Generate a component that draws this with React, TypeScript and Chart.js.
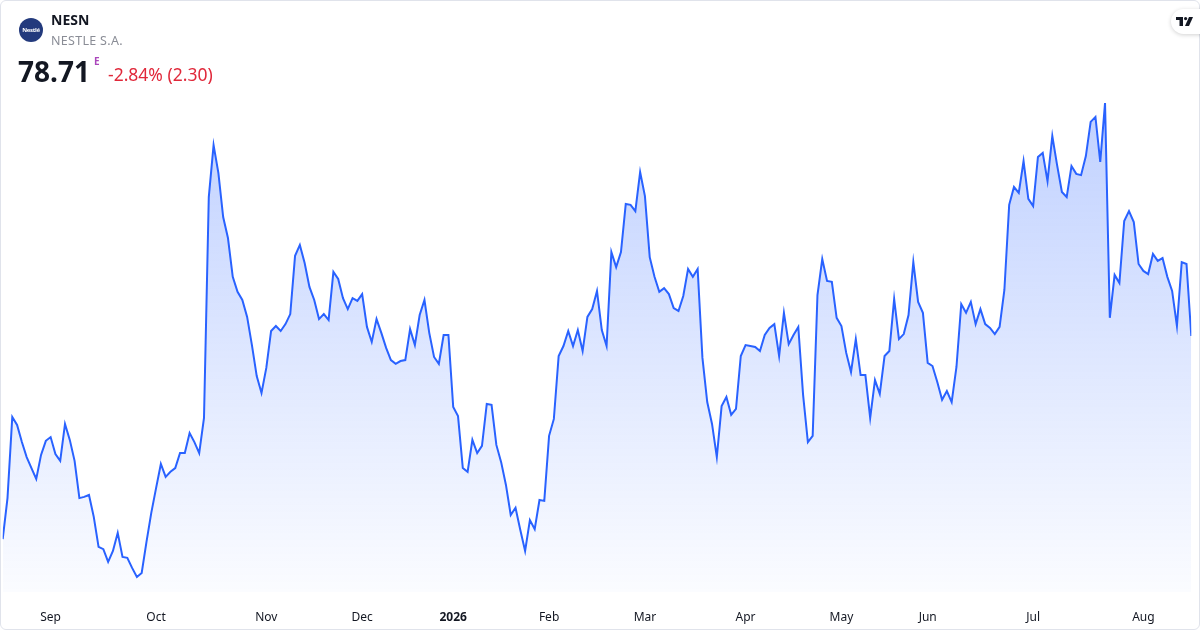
import React, { useEffect, useRef } from "react";
import { Chart, registerables } from "chart.js";

Chart.register(...registerables);

// Daily closing prices (CHF)
const prices: number[] = [
  72.22, 73.53, 76.12, 75.87, 75.32, 74.84, 74.49, 74.14, 74.91, 75.36,
  75.48, 74.94, 74.72, 75.90, 75.39, 74.72, 73.53, 73.57, 73.63, 72.93,
  71.97, 71.90, 71.49, 71.84, 72.42, 71.65, 71.62, 71.30, 71.01, 71.14,
  72.13, 73.06, 73.85, 74.62, 74.21, 74.37, 74.49, 74.97, 74.97, 75.61,
  75.32, 74.97, 76.09, 83.15, 84.81, 83.92, 82.51, 81.84, 80.60, 80.12,
  79.86, 79.32, 78.42, 77.43, 76.89, 77.69, 78.87, 79.03, 78.87, 79.09,
  79.41, 81.27, 81.62,
  81.04, 80.28, 79.86, 79.25, 79.41, 79.22, 80.76, 80.53, 79.92, 79.57,
  79.92, 79.83, 80.05, 79.00, 78.52, 79.25, 78.81, 78.33, 77.94, 77.82,
  77.91, 77.94, 78.93, 78.42, 79.38, 79.86, 78.81, 78.04, 77.82, 78.74,
  78.74, 76.44, 76.15, 74.49, 74.37, 75.39, 74.97, 75.20, 76.54, 76.51,
  75.23, 74.68, 73.95, 72.99, 73.22, 72.51, 71.84, 72.83, 72.54, 73.47,
  73.44, 75.52, 76.06, 78.07, 78.39, 78.87, 78.39, 78.90, 78.23, 79.32,
  79.57, 80.15, 78.90,
  78.39, 81.39, 80.91, 81.39, 82.93, 82.90, 82.70, 83.95, 83.18, 81.23,
  80.60, 80.12, 80.24, 80.05, 79.60, 79.51, 79.99, 80.85, 80.60, 80.85,
  78.01, 76.60, 75.90, 74.84, 76.47, 76.76, 76.19, 76.38, 78.07, 78.42,
  78.39, 78.36, 78.23, 78.74, 78.97, 79.09, 78.07, 79.45, 78.45, 78.74,
  79.00, 76.83, 75.32, 75.52, 80.02, 81.17, 80.47, 80.44, 79.29, 79.03,
  78.17, 77.56, 78.61, 77.46, 77.46, 76.09, 77.30, 76.86, 78.07, 78.23,
  79.89, 78.61, 78.77,
  79.38, 81.07, 79.80, 79.45, 77.85, 77.75, 77.24, 76.67, 76.95, 76.60,
  77.72, 79.73, 79.45, 79.80, 79.09, 79.57, 79.09, 78.97, 78.77, 79.00,
  80.18, 82.90, 83.47, 83.28, 84.30, 83.09, 82.86, 84.43, 84.56, 83.66,
  85.10, 84.17, 83.31, 83.15, 84.14, 83.89, 83.85, 84.46, 85.55, 85.71,
  84.27, 86.15, 79.29, 80.66, 80.40, 82.38, 82.70, 82.35, 81.01, 80.79,
  80.69, 81.33, 81.11, 81.20, 80.60, 80.15, 79.03, 81.07, 81.01, 78.71,
];

// Month labels on the time axis and the trading-day index each one marks
const tickLabels: string[] = ["Sep", "Oct", "Nov", "Dec", "2026", "Feb", "Mar", "Apr", "May", "Jun", "Jul", "Aug"];
const tickIndices: number[] = [10, 32, 55, 75, 94, 114, 134, 155, 175, 193, 215, 238];

const FONT = "'Noto Sans', 'Open Sans', sans-serif";

export default function App() {
  const canvasRef = useRef<HTMLCanvasElement | null>(null);

  useEffect(() => {
    const el = canvasRef.current;
    if (!el) return;
    const data = prices.map((p, i) => ({ x: i, y: p }));
    const chart = new Chart(el, {
      type: "line",
      data: {
        datasets: [
          {
            data,
            borderColor: "#2962FF",
            borderWidth: 2,
            pointRadius: 0,
            tension: 0,
            fill: "start",
            backgroundColor: (ctx: any) => {
              const { chart } = ctx;
              const area = chart.chartArea;
              if (!area) return "rgba(41,98,255,0.15)";
              const g = chart.ctx.createLinearGradient(0, area.top, 0, area.bottom);
              g.addColorStop(0, "rgba(41,98,255,0.30)");
              g.addColorStop(1, "rgba(41,98,255,0.02)");
              return g;
            },
          },
        ],
      },
      options: {
        animation: false,
        responsive: false,
        maintainAspectRatio: false,
        layout: { padding: { left: 2.7, right: 8.7, top: 90, bottom: 0 } },
        plugins: { legend: { display: false }, tooltip: { enabled: false } },
        scales: {
          x: {
            type: "linear",
            min: 0,
            max: prices.length - 1,
            border: { display: false },
            grid: { display: false, drawTicks: false },
            afterBuildTicks: (scale: any) => {
              scale.ticks = tickIndices.map((v) => ({ value: v }));
            },
            afterFit: (scale: any) => {
              scale.height = 38;
            },
            ticks: {
              autoSkip: false,
              maxRotation: 0,
              padding: 18,
              color: "#131722",
              font: (ctx: any) => ({
                family: FONT,
                size: 12,
                weight: ctx.tick && ctx.tick.label === "2026" ? "bold" : "normal",
              }),
              callback: (value: any) => {
                const i = tickIndices.indexOf(Number(value));
                return i >= 0 ? tickLabels[i] : "";
              },
            },
          },
          y: {
            display: false,
            min: 70.53,
            max: 86.57,
          },
        },
      },
    });
    return () => chart.destroy();
  }, []);

  const last = prices[prices.length - 1];
  const prev = prices[prices.length - 2];
  const diff = last - prev;
  const pct = (diff / prev) * 100;

  return (
    <div
      style={{
        position: "fixed",
        left: 0,
        top: 0,
        width: 1200,
        height: 630,
        background: "#ffffff",
        overflow: "hidden",
        fontFamily: FONT,
      }}
    >
      <canvas ref={canvasRef} width={1200} height={630} style={{ position: "absolute", left: 0, top: 0, width: 1200, height: 630 }} />
      <div
        style={{
          position: "absolute",
          left: 0,
          top: 0,
          width: 1200,
          height: 630,
          boxSizing: "border-box",
          border: "1px solid #e0e3eb",
          borderRadius: 6,
          pointerEvents: "none",
        }}
      />
      {/* logo */}
      <div
        style={{
          position: "absolute",
          left: 19,
          top: 18,
          width: 24,
          height: 24,
          borderRadius: 12,
          background: "#233a7d",
          color: "#ffffff",
          fontSize: 6,
          fontWeight: 700,
          lineHeight: "24px",
          textAlign: "center",
          letterSpacing: -0.3,
        }}
      >
        Nestlé
      </div>
      <div style={{ position: "absolute", left: 51, top: 10, fontSize: 14, fontWeight: 700, color: "#131722", lineHeight: "20px" }}>
        NESN
      </div>
      <div style={{ position: "absolute", left: 51, top: 32, fontSize: 12.5, color: "#8a8d96", lineHeight: "18px", letterSpacing: 0.3 }}>
        NESTLE S.A.
      </div>
      <div style={{ position: "absolute", left: 18, top: 53, fontSize: 28, fontWeight: 700, color: "#131722", lineHeight: "36px" }}>
        {last.toFixed(2)}
      </div>
      <div style={{ position: "absolute", left: 94, top: 54, fontSize: 10, fontWeight: 700, color: "#ab47bc", lineHeight: "14px" }}>
        E
      </div>
      <div style={{ position: "absolute", left: 108, top: 62, fontSize: 17.5, color: "#e0283a", lineHeight: "24px" }}>
        {pct.toFixed(2)}% ({Math.abs(diff).toFixed(2)})
      </div>
      {/* TradingView badge */}
      <div
        style={{
          position: "absolute",
          left: 1171,
          top: 9,
          width: 44,
          height: 25,
          borderRadius: 13,
          background: "#ffffff",
          boxShadow: "0 1px 4px rgba(0,0,0,0.18)",
        }}
      >
        <svg width="18" height="10" viewBox="0 0 18 10" style={{ position: "absolute", left: 5, top: 8 }}>
          <rect x="0" y="0" width="7" height="3" fill="#131722" />
          <rect x="3.5" y="0" width="3.5" height="9" fill="#131722" />
          <circle cx="9.6" cy="1.6" r="1.6" fill="#131722" />
          <polygon points="13,0 17,0 13,9 9,9" fill="#131722" />
        </svg>
      </div>
    </div>
  );
}
